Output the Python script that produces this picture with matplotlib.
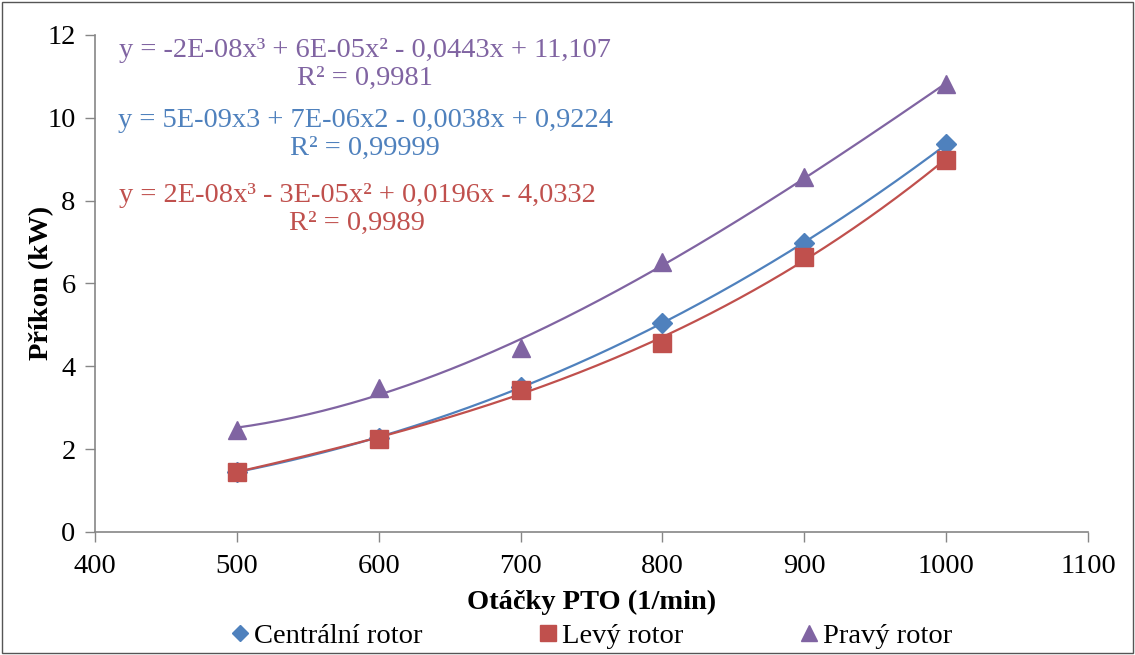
import numpy as np
import matplotlib
matplotlib.use("Agg")
import matplotlib.pyplot as plt
from matplotlib.patches import Rectangle

plt.rcParams['font.family'] = ['Liberation Serif', 'DejaVu Serif']

rpm = [500, 600, 700, 800, 900, 1000]
centralni = [1.45, 2.27, 3.50, 5.05, 6.98, 9.36]
levy = [1.45, 2.25, 3.43, 4.57, 6.64, 8.99]
pravy = [2.47, 3.48, 4.44, 6.52, 8.56, 10.82]

series_names = ['Centrální rotor', 'Levý rotor', 'Pravý rotor']
eq_texts = [
    'y = 5E-09x3 + 7E-06x2 - 0,0038x + 0,9224\nR² = 0,99999',
    'y = 2E-08x³ - 3E-05x² + 0,0196x - 4,0332\nR² = 0,9989',
    'y = -2E-08x³ + 6E-05x² - 0,0443x + 11,107\nR² = 0,9981',
]
xticks = [400, 500, 600, 700, 800, 900, 1000, 1100]
yticks = [0, 2, 4, 6, 8, 10, 12]

colors = ['#4F81BD', '#C0504D', '#8064A2']
markers = ['D', 's', '^']
msizes = [10, 13, 13]

FS = 20.5
fig = plt.figure(figsize=(11.35, 6.55), dpi=100)
ax = fig.add_axes([0.0837, 0.188, 0.8749, 0.7586])

xs = np.linspace(min(rpm), max(rpm), 200)
handles = []
for ys, c in zip([centralni, levy, pravy], colors):
    coef = np.polyfit(rpm, ys, 3)
    ax.plot(xs, np.polyval(coef, xs), color=c, lw=1.6, zorder=2)
for ys, c, m, ms, name in zip([centralni, levy, pravy], colors, markers, msizes, series_names):
    h, = ax.plot(rpm, ys, linestyle='none', marker=m, color=c, markersize=ms, label=name, zorder=3)
    handles.append(h)

ax.set_xlim(400, 1100)
ax.set_ylim(0, 12)
ax.set_xticks(xticks)
ax.set_yticks(yticks)
ax.tick_params(axis='both', labelsize=FS, direction='out', length=7, color='#868686', width=1)
ax.tick_params(axis='x', pad=9)
ax.tick_params(axis='y', pad=7)
for s in ['top', 'right']:
    ax.spines[s].set_visible(False)
for s in ['left', 'bottom']:
    ax.spines[s].set_color('#868686')
    ax.spines[s].set_linewidth(1.2)

ax.set_xlabel('Otáčky PTO (1/min)', fontsize=FS, fontweight='bold', labelpad=8)
ax.set_ylabel('Příkon (kW)', fontsize=FS, fontweight='bold', labelpad=-5)

W, H = 1135, 655
pos = [(365, 134), (357, 209), (365, 64)]
for i in [2, 0, 1]:
    px, py = pos[i]
    fig.text(px / W, 1 - py / H, eq_texts[i], color=colors[i], fontsize=FS,
             ha='center', va='center', multialignment='center', linespacing=1.15)

fig.legend(handles=handles, labels=series_names, loc='center', bbox_to_anchor=(589 / W, 1 - 636 / H),
           ncol=3, frameon=False, fontsize=FS, handletextpad=0.0, columnspacing=3.9,
           handlelength=1.0, markerscale=0.85, borderpad=0)

fig.patches.append(Rectangle((0.002, 0.003), 0.996, 0.994, transform=fig.transFigure,
                             fill=False, edgecolor='#555555', lw=1.0))

fig.savefig('out.png', dpi=100)
